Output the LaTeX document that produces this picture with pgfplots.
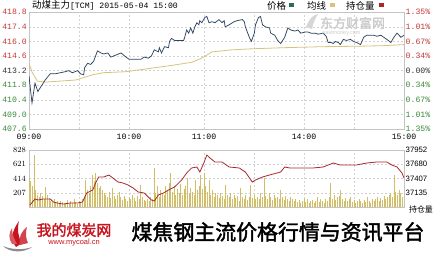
\documentclass[border=0pt]{standalone}
\usepackage{fontspec}
\usepackage{pgfplots}
\usepackage{pgfplotstable}
\pgfplotsset{compat=1.18}
\setmainfont{Liberation Sans}
\newfontfamily\cjk{Noto Sans CJK SC}
\newfontfamily\cjkb[FakeBold=2]{Noto Sans CJK SC}
\newfontfamily\mono{Liberation Mono}

\definecolor{pricec}{HTML}{2E4660}
\definecolor{avgc}{HTML}{D9C27E}
\definecolor{oic}{HTML}{A8282E}
\definecolor{volc}{HTML}{D2BE66}
\definecolor{upc}{HTML}{C23A3A}
\definecolor{dnc}{HTML}{3C8A3C}
\definecolor{framec}{HTML}{C4C4C4}
\definecolor{gridc}{HTML}{D2D2D2}
\definecolor{legp}{HTML}{2F6A5A}
\definecolor{brand}{HTML}{C8141E}

% minute index from 09:00 (trading minutes), last price
\pgfplotstableread{
m p
0 412.7
0.6 411.8
1.8 410.1
3.6 412.0
5.3 411.2
7.3 411.7
9.7 412.3
12.7 412.9
15.8 412.9
18.8 413.0
21.8 413.1
23.7 413.2
26.1 413.0
29.1 413.2
30.9 412.9
32.8 412.8
33.4 413.5
35.2 413.9
37.0 413.8
38.8 414.1
40.6 414.9
41.2 415.1
43.1 414.9
44.9 414.8
47.3 414.9
49.1 414.5
52.2 414.7
55.2 414.9
58.2 414.5
60.0 414.3
64.3 414.3
67.3 414.3
69.1 414.5
71.6 414.4
73.4 414.6
75.2 415.2
77.6 415.0
78.2 415.4
79.5 414.9
81.3 415.5
83.7 415.4
84.3 416.0
85.5 416.3
87.3 416.1
92.8 416.1
93.4 416.4
94.6 417.1
95.8 416.8
97.0 417.3
98.3 416.8
99.5 417.4
100.7 417.8
101.9 417.6
102.5 418.0
103.7 417.8
105.5 418.3
106.7 418.4
108.0 417.8
109.8 417.9
111.6 417.8
114.0 418.1
115.8 417.8
117.1 418.0
117.7 417.4
120.1 417.6
123.1 417.9
124.9 418.0
128.0 418.1
129.2 417.9
129.8 417.4
132.2 416.4
133.4 416.0
135.2 416.8
135.9 417.6
137.7 418.3
138.9 418.4
140.1 417.6
141.9 417.4
144.3 417.3
145.0 416.8
147.4 416.6
149.2 416.1
151.0 415.8
153.4 416.4
155.3 417.3
157.1 417.1
159.5 417.0
161.3 417.1
163.1 416.8
165.6 416.9
167.4 416.9
169.2 416.8
171.6 416.8
173.5 416.7
176.5 416.8
178.3 416.5
179.5 415.9
181.3 415.9
182.6 415.8
183.8 416.0
185.6 415.9
186.8 415.7
188.6 416.2
190.4 416.1
192.9 416.2
194.7 416.0
196.5 415.9
198.9 415.7
200.8 416.4
202.6 416.6
206.8 416.6
208.6 416.5
211.1 416.6
212.9 416.4
214.7 416.2
217.1 415.9
218.9 416.4
220.8 416.8
223.2 416.4
225 416.6
}\pricetable

% average price
\pgfplotstableread{
m a
0 413.9
2 413.0
5 412.2
9.7 412.1
27.9 412.3
38.2 412.8
44.3 413.0
58.2 413.1
76.4 413.5
85.5 413.7
97.6 414.0
103.7 414.4
109.8 415.0
121.9 415.2
134.0 415.3
152.2 415.4
176.5 415.5
200 415.55
212.9 415.6
225 415.7
}\avgtable

% open interest
\pgfplotstableread{
m oi
0.6 36900
3.6 37015
5.5 36996
8.5 37015
12.7 37015
14.6 36958
17.0 36938
20.6 36919
24.9 36938
29.1 36938
32.1 36958
34.6 37130
38.2 37187
40.0 37321
41.8 37436
44.9 37436
47.9 37474
50.3 37417
53.4 37340
56.4 37321
59.4 37283
62.5 37225
65.5 37149
69.1 37130
73.4 36996
75.2 36977
77.6 37091
80.7 37130
83.7 37187
87.3 37244
91.6 37378
94.6 37512
97.6 37608
100.7 37627
102.5 37531
104.9 37703
106.7 37856
108.6 37799
111.6 37722
115.8 37722
120.1 37627
126.2 37608
129.8 37531
134.0 37340
135.9 37378
140.1 37436
144.3 37474
151.0 37531
153.4 37627
156.5 37608
162.5 37608
170.4 37608
176.5 37627
182.6 37703
186.8 37665
196.5 37665
202.6 37703
208.6 37722
214.7 37722
217.7 37665
220.8 37627
223.8 37512
225 37417
}\oitable

% volume per minute, one row per minute from 09:00
\pgfplotstableread{
v
420
380
300
750
250
180
150
200
160
120
290
180
130
90
70
110
60
80
50
90
70
40
60
100
50
80
60
120
70
50
90
60
110
150
390
250
200
300
460
380
500
350
280
300
250
200
180
150
220
130
275
160
120
180
220
140
100
160
120
90
150
110
180
130
90
160
120
320
140
100
80
120
90
150
110
565
200
300
150
250
210
180
300
250
350
500
220
300
180
260
200
330
180
260
300
420
200
280
220
170
390
240
300
460
260
500
300
220
390
180
240
150
200
170
130
210
160
120
320
180
150
200
110
170
130
160
90
275
140
120
180
100
150
320
130
170
110
150
120
200
140
420
160
120
200
140
100
180
130
150
110
250
140
100
160
120
90
140
110
80
120
70
100
60
90
130
70
110
60
80
100
60
90
140
70
110
80
60
120
90
150
350
120
180
100
140
160
250
110
90
130
80
110
150
70
100
60
90
120
80
60
100
70
140
90
60
110
80
120
150
90
130
100
160
120
140
180
200
150
460
220
180
250
200
150
120
}\voltable

\pgfplotsset{
  panel/.style={
    scale only axis, anchor=south west, width=375bp,
    xmin=0, xmax=225,
    axis line style={framec}, tick style={draw=none},
    grid style={gridc, dash pattern=on 2bp off 2bp},
  },
}

\begin{document}
\begin{tikzpicture}[x=1bp,y=1bp]
\path[use as bounding box, fill=white] (0,0) rectangle (440,259);

% ---------- price panel ----------
\begin{axis}[panel,
  at={(29bp,130bp)}, height=116.7bp,
  ymin=407.6, ymax=418.8,
  xtick={0,30,60,105,135,165,195,225},
  xticklabels={09:00,,10:00,11:00,,14:00,,15:00},
  xticklabel style={font=\mono\fontsize{8.2}{9}\selectfont, inner sep=0pt, yshift=-4.5bp},
  ytick={407.6,409.0,410.4,411.8,413.2,414.6,416.0,417.4,418.8},
  yticklabels={\textcolor{dnc}{407.6},\textcolor{dnc}{409.0},\textcolor{dnc}{410.4},\textcolor{dnc}{411.8},
    \textcolor{black!80}{413.2},\textcolor{upc}{414.6},\textcolor{upc}{416.0},\textcolor{upc}{417.4},\textcolor{upc}{418.8}},
  yticklabel style={font=\mono\fontsize{8.2}{9}\selectfont, inner sep=0pt, xshift=-2bp},
  xmajorgrids, ymajorgrids,
]
\addplot[avgc, line width=0.8bp] table[x=m, y=a] {\avgtable};
\addplot[pricec, line width=0.75bp] table[x=m, y=p] {\pricetable};
\end{axis}

% percentage change scale on the right
\begin{axis}[panel,
  at={(29bp,130bp)}, height=116.7bp,
  ymin=407.6, ymax=418.8,
  axis y line*=right, axis x line=none,
  ytick={407.6,409.0,410.4,411.8,413.2,414.6,416.0,417.4,418.8},
  yticklabels={\textcolor{dnc}{1.35\%},\textcolor{dnc}{1.01\%},\textcolor{dnc}{0.67\%},\textcolor{dnc}{0.34\%},
    \textcolor{black!80}{0.00\%},\textcolor{upc}{0.34\%},\textcolor{upc}{0.67\%},\textcolor{upc}{1.01\%},\textcolor{upc}{1.35\%}},
  yticklabel style={font=\mono\fontsize{8.2}{9}\selectfont, inner sep=0pt, xshift=1.5bp},
]
\end{axis}

% ---------- volume panel ----------
\begin{axis}[panel,
  at={(29bp,52bp)}, height=57bp,
  ymin=0, ymax=828,
  xtick={0,30,60,105,135,165,195,225}, xticklabels={},
  ytick={207,414,621,828},
  yticklabel style={font=\fontsize{7.8}{9}\selectfont, inner sep=0pt, xshift=-3bp},
  xmajorgrids, ymajorgrids,
]
\addplot[ycomb, volc, line width=1bp] table[x expr=\coordindex, y=v] {\voltable};
\end{axis}

% open interest on the right scale
\begin{axis}[panel,
  at={(29bp,52bp)}, height=57bp,
  ymin=36862, ymax=37952,
  axis y line*=right, axis x line=none,
  scaled y ticks=false,
  ytick={37135,37407,37680,37952},
  yticklabels={37135,37407,37680,37952},
  yticklabel style={font=\fontsize{7.8}{9}\selectfont, inner sep=0pt, xshift=1.5bp},
]
\addplot[oic, line width=0.8bp] table[x=m, y=oi] {\oitable};
\end{axis}

% ---------- header ----------
\node[anchor=west, inner sep=0pt] at (32,254)
  {{\cjk\fontsize{9.5}{10}\selectfont 动煤主力}{\mono\fontsize{8.2}{9}\selectfont[TCM] 2015-05-04 15:00}};

\node[anchor=west, inner sep=0pt] at (267,253.5) {\cjk\fontsize{9.5}{10}\selectfont 价格};
\fill[legp] (289,251.5) rectangle (293.5,255.5);
\node[anchor=west, inner sep=0pt] at (307,253.5) {\cjk\fontsize{9.5}{10}\selectfont 均线};
\fill[avgc] (330,251.5) rectangle (334.5,255.5);
\node[anchor=west, inner sep=0pt] at (346,253.5) {\cjk\fontsize{9.5}{10}\selectfont 持仓量};
\fill[oic] (379,251.5) rectangle (383.5,255.5);

% faint provider mark
\node[anchor=west, inner sep=0pt, text=black!20] at (320,236)
  {\cjkb\fontsize{13}{14}\selectfont 东方财富网};
\node[anchor=west, inner sep=0pt, text=black!20] at (322,226)
  {\fontsize{5.5}{6}\selectfont eastmoney.com};
\fill[black!16] (306,232) .. controls (310,242) and (314,244) .. (318,245)
  .. controls (315,240) and (313,236) .. (312,230) -- cycle;

\node[anchor=center, inner sep=0pt] at (421,50) {\cjk\fontsize{8}{9}\selectfont 持仓量};

% ---------- banner ----------
\fill[brand] (16,12) .. controls (10,20) and (12,28) .. (19,38)
  .. controls (17,30) and (18,22) .. (22,16) -- cycle;
\fill[brand!80] (20,14) .. controls (18,22) and (22,28) .. (27,32)
  .. controls (25,26) and (26,20) .. (28,16) -- cycle;
\fill[brand!70] (12,15) .. controls (8,21) and (9,26) .. (12,31)
  .. controls (12,25) and (14,20) .. (17,15) -- cycle;
\fill[black!45] (3,13) .. controls (10,6) and (24,6) .. (32,12)
  .. controls (24,9) and (12,9) .. (3,13) -- cycle;

\node[anchor=center, inner sep=0pt, text=brand] at (74,29)
  {\cjkb\fontsize{15}{16}\selectfont 我的煤炭网};
\node[anchor=center, inner sep=0pt, text=brand] at (74,16)
  {\fontsize{7.5}{8}\selectfont www.mycoal.cn};
\node[anchor=center, inner sep=0pt] at (278,27)
  {\cjkb\fontsize{21}{22}\selectfont 煤焦钢主流价格行情与资讯平台};
\end{tikzpicture}
\end{document}
